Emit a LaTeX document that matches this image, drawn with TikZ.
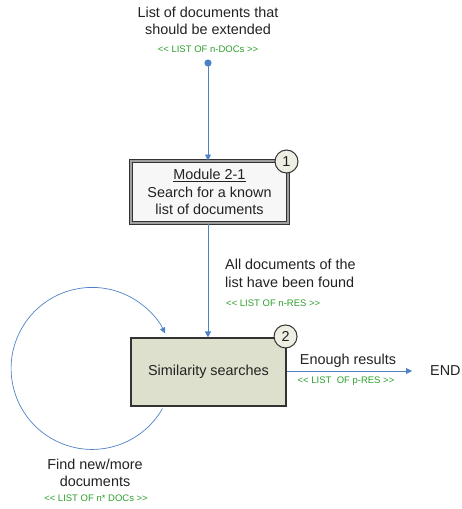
\documentclass[tikz,border=0pt]{standalone}
\usepackage{fontspec}
\setmainfont{Liberation Sans}
\usetikzlibrary{arrows.meta,calc}
\definecolor{flowblue}{RGB}{79,129,199}
\definecolor{notegreen}{RGB}{44,160,44}
\definecolor{inkgrey}{RGB}{34,34,34}
\definecolor{boxedge}{RGB}{51,51,51}
\definecolor{olivefill}{RGB}{221,224,204}
\definecolor{badgefill}{RGB}{238,238,226}
\newcommand\opentag{<{}<}
\newcommand\closetag{>{}>}
\tikzset{
  maintext/.style={text=inkgrey, font=\fontsize{14.4}{17.4}\selectfont, inner sep=0pt, align=center},
  greennote/.style={text=notegreen, font=\fontsize{9.5}{11}\selectfont, inner sep=0pt},
  flow/.style={draw=flowblue, line width=0.9pt, -{Triangle[length=6pt,width=6pt]}},
  modulebox/.style={draw=boxedge, double=gray!75, double distance=2pt, line width=1pt,
    fill=white!97!black, minimum width=157pt, minimum height=62pt, inner sep=0pt,
    maintext},
  searchbox/.style={draw=boxedge, line width=1.1pt, fill=olivefill,
    minimum width=155pt, minimum height=68pt, inner sep=0pt, maintext},
  badge/.style={circle, draw=boxedge, line width=1pt, fill=badgefill,
    minimum size=23pt, inner sep=0pt, maintext},
}
\begin{document}
\begin{tikzpicture}[x=1pt,y=-1pt]
\useasboundingbox (0,0) rectangle (461,509);

% input list
\node[maintext] (intext) at (208,21) {List of documents that\\should be extended};
\node[greennote] (innote) at (208,49) {\opentag{} LIST OF n-DOCs \closetag};
\fill[flowblue] (208,63) circle (3.6pt);
\coordinate (start) at (208,63);

% module 2-1
\node[modulebox] (mod) at (209.5,192) {\underline{Module 2-1}\\Search for a known\\list of documents};
\node[badge] (b1) at ($(mod.north east)+(-2,1)$) {1};

% similarity searches
\node[searchbox] (sim) at (208.5,372) {Similarity searches};
\node[badge] (b2) at ($(sim.north east)+(-1,-1)$) {2};

% END
\node[maintext, anchor=west] (end) at (430,371) {END};

% connectors
\draw[flow] (start) -- (mod.north -| start);
\draw[flow] (mod.south -| start) -- (sim.north -| start);
\draw[flow] (sim.east |- 0,371) -- ($(end.west)+(-18,0)$);

% loop back into the similarity searches
\coordinate (loopstart) at ($(sim.south west)+(32,2)$);
\draw[draw=flowblue, line width=0.7pt, -{Triangle[length=6pt,width=5.5pt]}]
  (loopstart) arc[start angle=29.7, end angle=334.5, radius=81];

% labels
\node[maintext, align=left, anchor=north west] (found) at (225,259)
  {All documents of the\\list have been found};
\node[greennote, anchor=west] (foundnote) at (226,303) {\opentag{} LIST OF n-RES \closetag};

\node[maintext] (enough) at (348,361) {Enough results};
\node[greennote] (enoughnote) at (346,381) {\opentag{} LIST~~OF p-RES \closetag};

\node[maintext] (findmore) at (95,473) {Find new/more\\documents};
\node[greennote] (findnote) at (96,498) {\opentag{} LIST OF n* DOCs \closetag};
\end{tikzpicture}
\end{document}
